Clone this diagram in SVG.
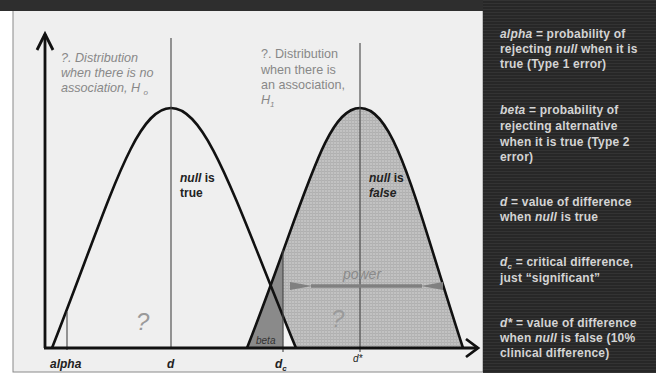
<svg xmlns="http://www.w3.org/2000/svg" width="656" height="373" viewBox="0 0 656 373">
<style>
.gl{font-family:"Liberation Sans",Arial,sans-serif;font-size:12.6px;fill:#888}
.rt{font-family:"Liberation Sans",Arial,sans-serif;font-size:12px;font-weight:bold;fill:#d4d4d4;letter-spacing:0.2px}
.dk{font-family:"Liberation Sans",Arial,sans-serif;font-size:12px;font-weight:bold;fill:#222}
.ax{font-family:"Liberation Sans",Arial,sans-serif;font-size:12px;font-weight:bold;font-style:italic;fill:#222}
.q{font-family:"Liberation Sans",Arial,sans-serif;font-size:24px;font-style:italic;fill:#9a9a9a}
.curve{fill:none;stroke:#111;stroke-width:2.6}
.vl{stroke:#444;stroke-width:1.1}
.axis{stroke:#111;stroke-width:2.8;fill:none}
</style>
<defs>
<pattern id="scan" width="4" height="3" patternUnits="userSpaceOnUse">
<rect width="4" height="3" fill="#272727"/>
<rect y="0" width="4" height="1" fill="#333"/>
</pattern>
<pattern id="grid" width="3" height="3" patternUnits="userSpaceOnUse">
<rect width="3" height="3" fill="#c2c2c2"/>
<rect width="3" height="1" fill="#b0b0b0"/>
<rect width="1" height="3" fill="#b4b4b4"/>
</pattern>
<clipPath id="leftdc"><rect x="0" y="0" width="283" height="349"/></clipPath>
<clipPath id="rightdc"><rect x="283.5" y="0" width="100" height="349"/></clipPath>
<marker id="ah" viewBox="0 0 22 10" refX="1" refY="5" markerWidth="22" markerHeight="10" markerUnits="userSpaceOnUse" orient="auto-start-reverse">
<path d="M0,5 L22,1 L22,9 Z" fill="#808080"/>
</marker>
</defs>

<g id="background">
<rect x="0" y="0" width="656" height="373" fill="#ffffff"/>
<rect x="13" y="10" width="470" height="362" fill="#efefef" stroke="#8a8a8a" stroke-width="1"/>
<rect x="0" y="0" width="656" height="11" fill="#2e2e2e"/>
<rect x="483" y="0" width="173" height="373" fill="url(#scan)"/>
</g>

<g id="alt-distribution">
<path d="M247,348 C305,200 325,108 360,108 C395,108 415,200 463,348 Z" fill="url(#grid)"/>
<path d="M247,348 C305,200 325,108 360,108 C395,108 415,200 463,348 Z" fill="#8a8a8a" clip-path="url(#leftdc)"/>
<path d="M52,348 C110,200 135,108 171,108 C207,108 235,200 296,348 Z" fill="#f4f4f4" clip-path="url(#rightdc)"/>
<path class="curve" d="M247,348 C305,200 325,108 360,108 C395,108 415,200 463,348"/>
</g>

<g id="null-distribution">
<path class="curve" d="M52,348 C110,200 135,108 171,108 C207,108 235,200 296,348"/>
</g>

<g id="connectors">
<line class="vl" x1="171" y1="38" x2="171" y2="348"/>
<line class="vl" x1="360" y1="43" x2="360" y2="352"/>
<line class="vl" x1="283" y1="250" x2="283" y2="352"/>
<line class="vl" x1="67" y1="312" x2="67" y2="350"/>
<line x1="311" y1="286" x2="422" y2="286" stroke="#808080" stroke-width="3.5" marker-start="url(#ah)" marker-end="url(#ah)"/>
<line class="axis" x1="45" y1="348" x2="45" y2="34"/>
<polyline class="axis" points="37,50 45,34 53,50"/>
<line class="axis" x1="44" y1="348" x2="478" y2="348"/>
<polyline class="axis" points="466,339 478,348 466,357"/>
</g>

<g id="labels-left">
<text class="gl" font-style="italic" x="61" y="62">?.  Distribution</text>
<text class="gl" font-style="italic" x="61" y="77">when there is no</text>
<text class="gl" font-style="italic" x="61" y="92">association, H <tspan font-size="8" dy="3">o</tspan></text>
<text class="gl" x="261" y="58">?.  Distribution</text>
<text class="gl" x="261" y="74">when there is</text>
<text class="gl" x="261" y="89">an association,</text>
<text class="gl" font-style="italic" x="261" y="104">H<tspan font-size="8" dy="3">1</tspan></text>
<text class="dk" x="180" y="182"><tspan font-style="italic">null</tspan> is</text>
<text class="dk" x="180" y="197">true</text>
<text class="dk" x="369" y="182"><tspan font-style="italic">null</tspan> is</text>
<text class="dk" x="369" y="197"><tspan font-style="italic">false</tspan></text>
<text x="362" y="279" text-anchor="middle" font-family="Liberation Sans, Arial, sans-serif" font-size="14" font-style="italic" fill="#8a8a8a">power</text>
<text class="q" x="136" y="330">?</text>
<text class="q" x="331" y="327">?</text>
<text x="256" y="344" font-family="Liberation Sans, Arial, sans-serif" font-size="10" font-style="italic" fill="#333">beta</text>
<text class="ax" x="50" y="368">alpha</text>
<text class="ax" x="167" y="368">d</text>
<text class="ax" x="275" y="368">d<tspan font-size="8" dy="3">c</tspan></text>
<text x="353" y="362" font-family="Liberation Sans, Arial, sans-serif" font-size="10" font-style="italic" fill="#222">d*</text>
</g>

<g id="legend">
<text class="rt" x="500" y="38"><tspan font-style="italic">alpha</tspan> = probability of</text>
<text class="rt" x="500" y="53">rejecting  <tspan font-style="italic">null</tspan> when it is</text>
<text class="rt" x="500" y="68">true (Type 1 error)</text>
<text class="rt" x="500" y="114"><tspan font-style="italic">beta</tspan> = probability of</text>
<text class="rt" x="500" y="130">rejecting alternative</text>
<text class="rt" x="500" y="146">when it is true (Type 2</text>
<text class="rt" x="500" y="161">error)</text>
<text class="rt" x="500" y="206"><tspan font-style="italic">d</tspan> = value of difference</text>
<text class="rt" x="500" y="221">when <tspan font-style="italic">null</tspan> is true</text>
<text class="rt" x="500" y="266"><tspan font-style="italic">d<tspan font-size="8" dy="3">c</tspan></tspan><tspan dy="-3"> = critical difference,</tspan></text>
<text class="rt" x="500" y="282">just “significant”</text>
<text class="rt" x="500" y="327"><tspan font-style="italic">d*</tspan> = value of difference</text>
<text class="rt" x="500" y="342">when <tspan font-style="italic">null</tspan> is false (10%</text>
<text class="rt" x="500" y="357">clinical difference)</text>
</g>
</svg>
